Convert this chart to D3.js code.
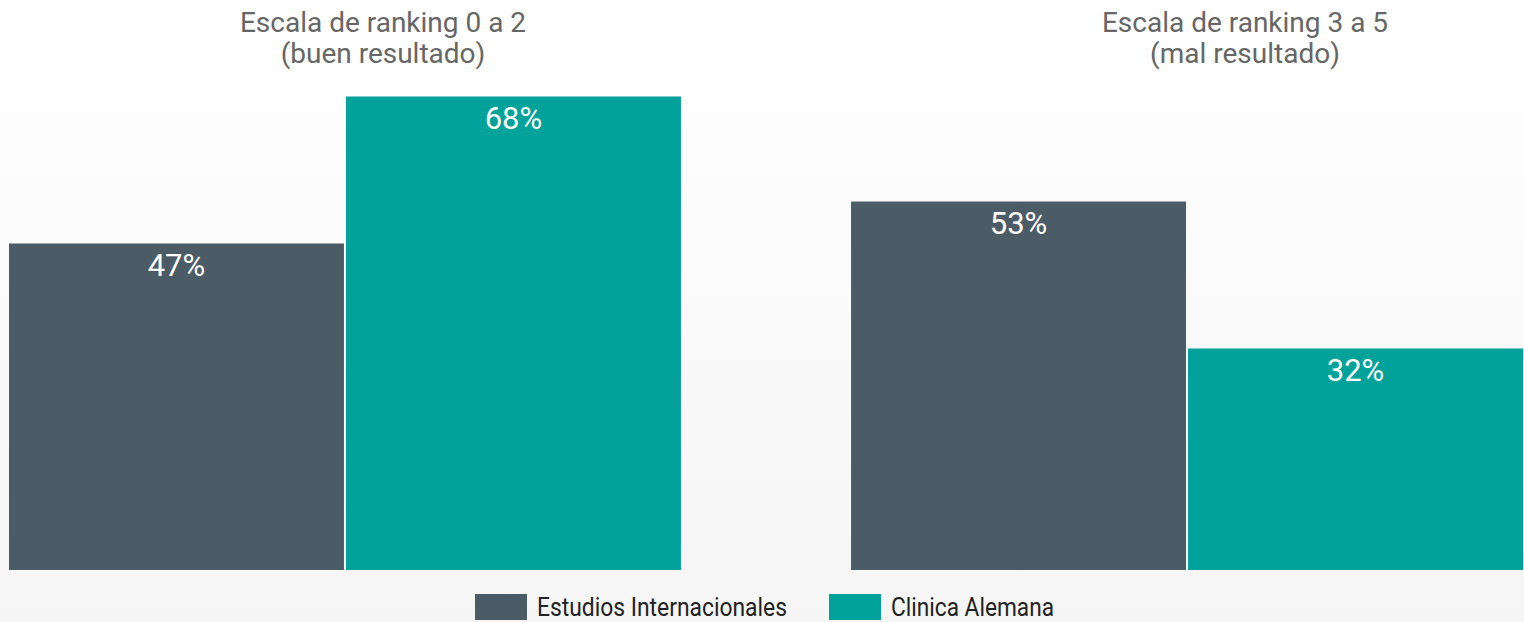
<!DOCTYPE html>
<html>
<head>
<meta charset="utf-8">
<script src="https://cdn.jsdelivr.net/npm/d3@7"></script>
<style>
  html, body { margin: 0; padding: 0; }
  body { width: 1524px; height: 622px; overflow: hidden; font-family: Roboto, "Noto Sans", sans-serif; }
</style>
</head>
<body>
<svg id="chart" width="1524" height="622"></svg>
<script>
// data
const groups = ["Escala de ranking 0 a 2|(buen resultado)", "Escala de ranking 3 a 5|(mal resultado)"];
const series = ["Estudios Internacionales", "Clinica Alemana"];
const colors = ["#4c5c67", "#00a29a"];
const internacionales = [47, 53];
const alemana = [68, 32];

const width = 1524, height = 622;
const baseline = 570;

const svg = d3.select("#chart");

// background gradient
const defs = svg.append("defs");
const grad = defs.append("linearGradient").attr("id", "bg").attr("x1", 0).attr("y1", 0).attr("x2", 0).attr("y2", 1);
grad.append("stop").attr("offset", "0%").attr("stop-color", "#ffffff");
grad.append("stop").attr("offset", "100%").attr("stop-color", "#f5f5f5");
svg.append("rect").attr("width", width).attr("height", height).attr("fill", "url(#bg)");

const x0 = d3.scaleBand().domain(groups).range([9, 1523]).paddingInner(0.202).paddingOuter(0);
const x1 = d3.scaleBand().domain(series).range([0, x0.bandwidth()]).paddingInner(0.006);
const y = d3.scaleLinear().domain([0, 100]).range([572.5, -127.5]);

const rows = groups.map((g, i) => ({ group: g, values: [internacionales[i], alemana[i]] }));

const g = svg.append("g");
const grp = g.selectAll("g.grp").data(rows).join("g")
  .attr("class", "grp")
  .attr("transform", d => `translate(${x0(d.group)},0)`);

grp.selectAll("rect").data(d => d.values.map((v, j) => ({ s: series[j], v: v, j: j })))
  .join("rect")
  .attr("x", d => x1(d.s))
  .attr("y", d => y(d.v))
  .attr("width", x1.bandwidth())
  .attr("height", d => baseline - y(d.v))
  .attr("fill", d => colors[d.j]);

grp.selectAll("text.val").data(d => d.values.map((v, j) => ({ s: series[j], v: v })))
  .join("text")
  .attr("class", "val")
  .attr("x", d => x1(d.s) + x1.bandwidth() / 2)
  .attr("y", d => y(d.v) + 32)
  .attr("text-anchor", "middle")
  .attr("fill", "#ffffff")
  .style("font-size", "31px")
  .text(d => d.v + "%");

// group titles on top
const titleX = [383, 1245];
svg.selectAll("text.title").data(groups).join("text")
  .attr("class", "title")
  .attr("x", (d, i) => titleX[i])
  .attr("y", 32)
  .attr("text-anchor", "middle")
  .attr("fill", "#666666")
  .style("font-size", "28px")
  .each(function (d) {
    const parts = d.split("|");
    const t = d3.select(this);
    parts.forEach((p, k) => {
      t.append("tspan").attr("x", d3.select(this).attr("x")).attr("dy", k === 0 ? 0 : 31).text(p);
    });
  });

// legend
const legendX = [475, 829];
const textLen = [250, 163];
const leg = svg.selectAll("g.leg").data(series).join("g")
  .attr("class", "leg")
  .attr("transform", (d, i) => `translate(${legendX[i]},594)`);
leg.append("rect").attr("width", 52).attr("height", 26).attr("fill", (d, i) => colors[i]);
leg.append("text")
  .attr("x", 62)
  .attr("y", 22)
  .attr("fill", "#222222")
  .style("font-size", "25px")
  .attr("textLength", (d, i) => textLen[i])
  .attr("lengthAdjust", "spacingAndGlyphs")
  .text(d => d);
</script>
</body>
</html>
